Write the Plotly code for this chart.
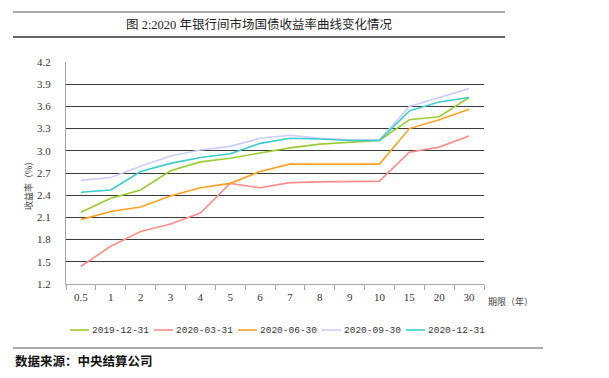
import plotly.graph_objects as go

# ---- data ----
terms = ["0.5", "1", "2", "3", "4", "5", "6", "7", "8", "9", "10", "15", "20", "30"]
series_names = ["2019-12-31", "2020-03-31", "2020-06-30", "2020-09-30", "2020-12-31"]
y_2019_12_31 = [2.17, 2.36, 2.47, 2.73, 2.85, 2.90, 2.97, 3.04, 3.09, 3.11, 3.14, 3.42, 3.46, 3.72]
y_2020_03_31 = [1.44, 1.71, 1.91, 2.01, 2.16, 2.56, 2.50, 2.57, 2.58, 2.59, 2.59, 2.98, 3.05, 3.20]
y_2020_06_30 = [2.07, 2.18, 2.24, 2.39, 2.50, 2.56, 2.72, 2.82, 2.82, 2.82, 2.82, 3.30, 3.42, 3.56]
y_2020_09_30 = [2.60, 2.64, 2.79, 2.93, 3.01, 3.06, 3.17, 3.21, 3.17, 3.15, 3.15, 3.60, 3.72, 3.84]
y_2020_12_31 = [2.44, 2.47, 2.72, 2.83, 2.91, 2.96, 3.10, 3.17, 3.16, 3.14, 3.14, 3.54, 3.66, 3.72]
y_ticks = [1.2, 1.5, 1.8, 2.1, 2.4, 2.7, 3.0, 3.3, 3.6, 3.9, 4.2]

colors = ["#9ACD32", "#FF8C8C", "#FFA020", "#CCCCFF", "#3CCCCC"]
all_series = [y_2019_12_31, y_2020_03_31, y_2020_06_30, y_2020_09_30, y_2020_12_31]

SERIF = "Liberation Serif, Times New Roman, Noto Sans CJK SC, serif"
CJK = "Noto Sans CJK SC, sans-serif"

fig = go.Figure()
for name, ys, c in zip(series_names, all_series, colors):
    fig.add_trace(go.Scatter(x=terms, y=ys, name=name, mode="lines",
                             line=dict(color=c, width=1.6), showlegend=False))

W, H = 609, 378
L, R, T, B = 58, 133, 54, 102
pw, ph = W - L - R, H - T - B


def px_x(x):
    return (x - L) / pw


def px_y(y):
    return (H - B - y) / ph


fig.update_layout(
    width=W, height=H,
    margin=dict(l=L, r=R, t=T, b=B),
    paper_bgcolor="white", plot_bgcolor="white",
    xaxis=dict(
        type="category", categoryorder="array", categoryarray=terms,
        range=[-0.5, len(terms) - 0.5],
        showgrid=False, showline=True, linecolor="#a6a6a6", linewidth=1,
        ticks="outside", tickson="boundaries", ticklen=5, tickcolor="#a6a6a6",
        tickfont=dict(family=SERIF, size=11, color="#333333"),
        ticklabelstandoff=3,
    ),
    yaxis=dict(
        range=[1.2, 4.2], tickvals=y_ticks,
        ticktext=[f"{v:.1f}" for v in y_ticks],
        showgrid=True, gridcolor="#3a3a3a", gridwidth=1,
        showline=True, linecolor="#a6a6a6", linewidth=1,
        ticks="", zeroline=False,
        tickfont=dict(family=SERIF, size=11, color="#333333"),
        ticklabelstandoff=12,
    ),
)

shapes = []
annotations = []

# title borders
shapes.append(dict(type="line", xref="paper", yref="paper",
                   x0=px_x(5), x1=px_x(497), y0=px_y(4), y1=px_y(4),
                   line=dict(color="#8c8c8c", width=1.5)))
shapes.append(dict(type="line", xref="paper", yref="paper",
                   x0=px_x(5), x1=px_x(497), y0=px_y(29), y1=px_y(29),
                   line=dict(color="#333333", width=1.5)))
annotations.append(dict(text="图 2:2020 年银行间市场国债收益率曲线变化情况",
                        xref="paper", yref="paper", x=px_x(251), y=px_y(16.5),
                        xanchor="center", yanchor="middle", showarrow=False,
                        font=dict(family=SERIF, size=12.5, color="#222222")))

# axis titles
annotations.append(dict(text="收益率（%）", xref="paper", yref="paper",
                        x=px_x(20), y=px_y(176), textangle=-90,
                        xanchor="center", yanchor="middle", showarrow=False,
                        font=dict(family=CJK, size=9, color="#404040")))
annotations.append(dict(text="期限（年）", xref="paper", yref="paper",
                        x=px_x(478), y=px_y(293), xanchor="left", yanchor="middle",
                        showarrow=False, font=dict(family=CJK, size=9, color="#404040")))

# custom legend
leg_y = 322
for i, (name, c) in enumerate(zip(series_names, colors)):
    x0 = 62 + i * 84
    shapes.append(dict(type="line", xref="paper", yref="paper",
                       x0=px_x(x0), x1=px_x(x0 + 19), y0=px_y(leg_y), y1=px_y(leg_y),
                       line=dict(color=c, width=1.6)))
    annotations.append(dict(text=name, xref="paper", yref="paper",
                            x=px_x(x0 + 20), y=px_y(leg_y), xanchor="left", yanchor="middle",
                            showarrow=False,
                            font=dict(family="Liberation Mono, monospace", size=9.5, color="#333333")))

# source line
shapes.append(dict(type="line", xref="paper", yref="paper",
                   x0=px_x(5), x1=px_x(535), y0=px_y(340), y1=px_y(340),
                   line=dict(color="#555555", width=1.2)))
annotations.append(dict(text="<b>数据来源：中央结算公司</b>", xref="paper", yref="paper",
                        x=px_x(5), y=px_y(352.5), xanchor="left", yanchor="middle",
                        showarrow=False, font=dict(family=CJK, size=12.5, color="#111111")))

fig.update_layout(shapes=shapes, annotations=annotations)
fig.write_html("out.html")
